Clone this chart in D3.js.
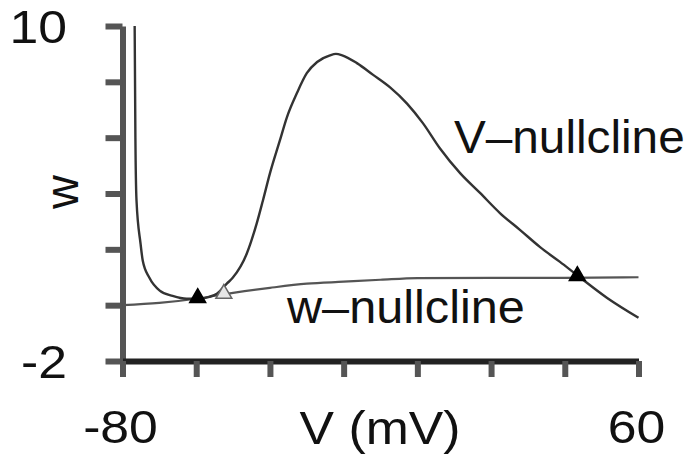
<!DOCTYPE html>
<html>
<head>
<meta charset="UTF-8">
<script src="https://cdnjs.cloudflare.com/ajax/libs/d3/7.8.5/d3.min.js"></script>
<style>
html, body { margin: 0; padding: 0; background: #fff; }
svg { display: block; }
text { font-family: 'Liberation Sans', Arial, sans-serif; fill: #111; }
</style>
</head>
<body>
<script>
// V-nullcline (V in mV, w)
var vnullV = [-76.7, -76.5, -76.2, -75.1, -74.5, -72.7, -69.9, -66.4, -62.6, -59.6, -56.4, -54.4, -51.7, -50.1, -46.3,
              -43.6, -41.9, -40.0, -37.3, -35.4, -32.7, -30.0, -27.2, -23.7, -22.1, -20.4, -16.4, -12.0, -7.4, -2.8,
              1.5, 6.1, 11.6, 17.0, 22.4, 27.9, 33.3, 38.7, 43.3, 51.5, 60];
var vnullW = [10, 6, 3.75, 2.2, 1.59, 0.98, 0.52, 0.33, 0.23, 0.23, 0.30, 0.41, 0.77, 0.98, 1.84,
              2.92, 3.75, 4.72, 5.9, 6.73, 7.59, 8.31, 8.71, 8.95, 9.0, 8.95, 8.67, 8.25, 7.8, 7.22,
              6.52, 5.62, 4.73, 4.02, 3.30, 2.69, 2.08, 1.55, 1.08, 0.26, -0.45];

// w-nullcline
var wnullV = [-80, -70, -60, -50, -40, -30, -20, -10, 0, 20, 40, 60];
var wnullW = [0.0, 0.08, 0.23, 0.44, 0.62, 0.77, 0.84, 0.91, 0.97, 0.98, 0.98, 1.0];

// equilibria: V, w, stable?
var fixedV = [-59.6, -52.5, 43.4];
var fixedW = [0.26, 0.41, 1.05];
var fixedFilled = [true, false, true];

var xTicks = [-80, -60, -40, -20, 0, 20, 40, 60];
var yTicks = [-2, 0, 2, 4, 6, 8, 10];
var xTickLabels = [-80, 60];
var yTickLabels = [-2, 10];

var width = 692, height = 455;

var svg = d3.select("body").append("svg")
    .attr("width", width)
    .attr("height", height);

var x = d3.scaleLinear().domain([-80, 60]).range([122.5, 638.5]);
var y = d3.scaleLinear().domain([-2, 10]).range([361, 26]);

var line = d3.line()
    .x(function(d) { return x(d[0]); })
    .y(function(d) { return y(d[1]); })
    .curve(d3.curveMonotoneX);

// axes
var yAxis = svg.append("g")
    .attr("transform", "translate(" + x(-80) + ",0)")
    .call(d3.axisLeft(y).tickValues(yTicks).tickSize(17).tickSizeOuter(0).tickFormat(""));
yAxis.select(".domain").attr("stroke", "#555").attr("stroke-width", 6);
yAxis.selectAll(".tick line").attr("stroke", "#555").attr("stroke-width", 6);

var xAxis = svg.append("g")
    .attr("transform", "translate(0," + y(-2) + ")")
    .call(d3.axisBottom(x).tickValues(xTicks).tickSize(16).tickSizeOuter(0).tickFormat(""));
xAxis.select(".domain").attr("stroke", "#222").attr("stroke-width", 6);
xAxis.selectAll(".tick line").attr("stroke", "#555").attr("stroke-width", 6);

// curves
svg.append("path")
    .datum(d3.zip(wnullV, wnullW))
    .attr("fill", "none")
    .attr("stroke", "#555")
    .attr("stroke-width", 2.2)
    .attr("d", line);

svg.append("path")
    .datum(d3.zip(vnullV, vnullW))
    .attr("fill", "none")
    .attr("stroke", "#333")
    .attr("stroke-width", 2.4)
    .attr("d", line);

// fixed points
var tri = d3.symbol().type(d3.symbolTriangle).size(110);
svg.selectAll(".fp")
    .data(d3.zip(fixedV, fixedW, fixedFilled))
    .enter().append("path")
    .attr("class", "fp")
    .attr("transform", function(d) { return "translate(" + x(d[0]) + "," + y(d[1]) + ")"; })
    .attr("d", tri)
    .attr("fill", function(d) { return d[2] ? "#000" : "#e6e6e6"; })
    .attr("stroke", function(d) { return d[2] ? "#000" : "#666"; })
    .attr("stroke-width", 1.5);

// tick labels
svg.selectAll(".ylab")
    .data(yTickLabels)
    .enter().append("text")
    .attr("class", "ylab")
    .attr("text-anchor", "end")
    .attr("font-size", 47)
    .attr("transform", function(d) { return "translate(67," + (y(d) + 17) + ") scale(1.1,1)"; })
    .text(function(d) { return d; });

svg.selectAll(".xlab")
    .data(xTickLabels)
    .enter().append("text")
    .attr("class", "xlab")
    .attr("text-anchor", "middle")
    .attr("font-size", 47)
    .attr("transform", function(d) { return "translate(" + (x(d) - 2) + ",443) scale(1.1,1)"; })
    .text(function(d) { return d; });

// axis titles
svg.append("text")
    .attr("text-anchor", "middle")
    .attr("font-size", 47)
    .attr("transform", "translate(380,444) scale(1.1,1)")
    .text("V (mV)");

svg.append("text")
    .attr("text-anchor", "middle")
    .attr("font-size", 47)
    .attr("transform", "translate(78,192) rotate(-90)")
    .text("w");

// curve labels
svg.append("text")
    .attr("font-size", 47)
    .attr("transform", "translate(454,153) scale(1.015,1)")
    .text("V\u2013nullcline");

svg.append("text")
    .attr("font-size", 47)
    .attr("transform", "translate(287,323) scale(1.035,1)")
    .text("w\u2013nullcline");
</script>
</body>
</html>
